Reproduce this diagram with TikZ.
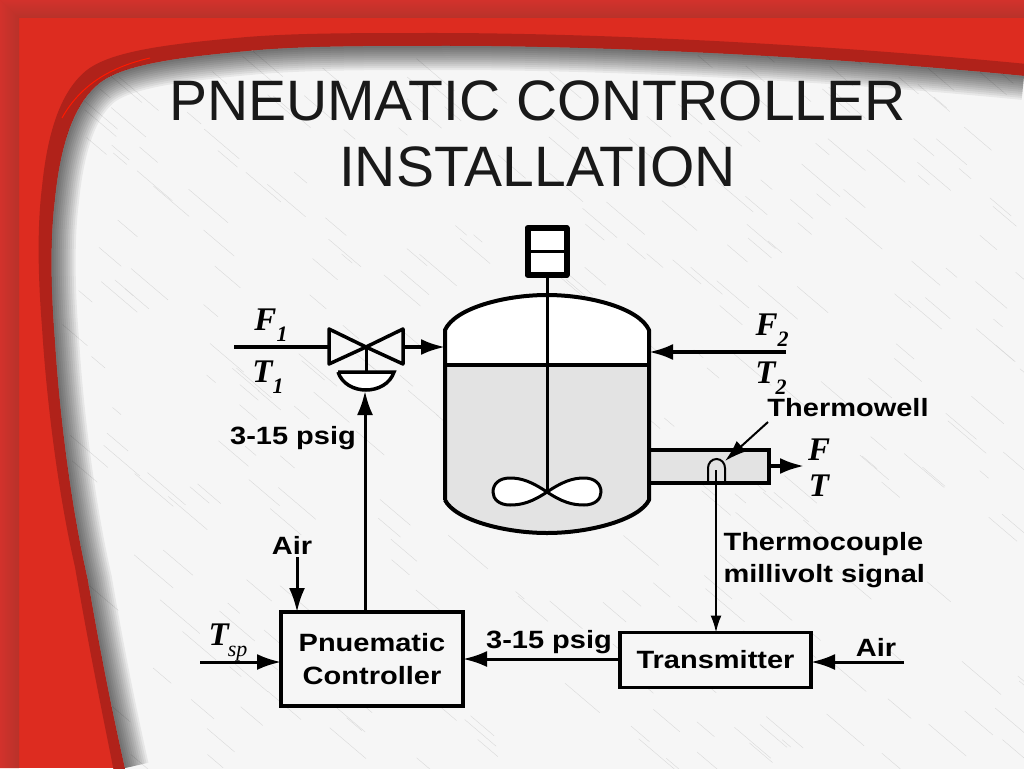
\documentclass[tikz,border=0pt]{standalone}
\usepackage{fontspec}
\setmainfont{Liberation Sans}
\newfontfamily\streamfont{Liberation Serif}
\newfontfamily\tagfont[FakeStretch=1.16]{Liberation Sans}
\usetikzlibrary{arrows.meta}
\definecolor{slidered}{HTML}{DD2C20}
\definecolor{banddark}{HTML}{B8322A}
\definecolor{bandlight}{HTML}{D2322C}
\definecolor{rimdark}{HTML}{B0221A}
\definecolor{panelgray}{HTML}{F6F6F6}
\definecolor{liquidgray}{HTML}{E3E3E3}
\newcommand{\panelcurve}{(1024,76) .. controls (780,52) and (560,46) .. (450,46)
  .. controls (370,46) and (310,46) .. (260,50) .. controls (180,57) and (125,64) .. (100,83)
  .. controls (72,105) and (60,150) .. (55,200) .. controls (50,240) and (51,290) .. (55,340)
  .. controls (60,420) and (72,510) .. (88,580) .. controls (100,650) and (112,710) .. (125,768)}
\newcommand{\streamlabel}[2]{#1\raisebox{-11pt}{\fontsize{22}{22}\selectfont #2}}
\tikzset{
  pipe/.style={line width=3.5pt, -{Latex[length=24pt,width=16pt]}},
  signal/.style={line width=3pt, -{Latex[length=24pt,width=16pt]}},
  vessel/.style={line width=4pt, line join=round},
  blockbox/.style={draw, line width=3.5pt, outer sep=0pt, fill=panelgray, font=\fontsize{25}{33}\selectfont\tagfont\bfseries, align=center},
  tag/.style={font=\fontsize{25}{32}\selectfont\tagfont\bfseries, align=left},
  stream/.style={font=\fontsize{33}{36}\selectfont\streamfont\bfseries\itshape}
}
\begin{document}
\begin{tikzpicture}[x=1pt, y=-1pt]
    \useasboundingbox (0, 0) rectangle (1024, 768);
    \fill [slidered] (0, 0) rectangle (1024, 768);
    \shade [top color=bandlight, bottom color=banddark] (0, 0) -- (1024, 0) -- (1024, 18) -- (19, 18) -- cycle;
    \shade [left color=bandlight, right color=banddark] (0, 0) -- (19, 18) -- (19, 768) -- (0, 768) -- cycle;

    \fill [rimdark, xshift=-13pt, yshift=13pt] (1060, 76) -- (1040, 77) .. controls (780,52) and (560,46) .. (450,46)
      .. controls (370,46) and (310,46) .. (260,50) .. controls (180,57) and (125,64) .. (100,83)
      .. controls (72,105) and (60,150) .. (55,200) .. controls (50,240) and (51,290) .. (55,340)
      .. controls (60,420) and (72,510) .. (88,580) .. controls (100,650) and (112,710) .. (128,790)
      -- (1060, 790) -- cycle;
    \draw [red!80!orange, line width=1pt] (150, 58) .. controls (115, 66) and (82, 82) .. (62, 118);
    \fill [panelgray] \panelcurve -- (126, 775) -- (1030, 775) -- (1030, 76) -- cycle;

    \begin{scope}
      \clip \panelcurve -- (126, 775) -- (1030, 775) -- (1030, 76) -- cycle;
      \pgfmathsetseed{41}
      \foreach \n in {1,...,320} {
        \pgfmathsetmacro{\sx}{60+rnd*960}
        \pgfmathsetmacro{\sy}{50+rnd*715}
        \pgfmathsetmacro{\sl}{8+rnd*32}
        \draw [gray!30, line width=0.4pt] (\sx, \sy) -- ++(\sl, 0.85*\sl);
      }
      \foreach \w in {4,8,...,48} {
        \draw [black, opacity=0.06, line width=\w pt] \panelcurve;
      }
    \end{scope}

    \node [font=\fontsize{57}{66}\selectfont, text=black!90, align=center] (title) at (537.5, 134)
      {PNEUMATIC CONTROLLER\\INSTALLATION};

    \fill [white] (445, 365) -- (445, 330) .. controls (455, 308) and (505, 295) .. (547, 295)
      .. controls (589, 295) and (639, 308) .. (649, 330) -- (649, 365) -- cycle;
    \fill [liquidgray] (445, 365) -- (445, 500) .. controls (455, 520) and (505, 533) .. (547, 533)
      .. controls (589, 533) and (639, 520) .. (649, 500) -- (649, 365) -- cycle;
    \fill [liquidgray] (650, 450) rectangle (769, 483);
    \draw [vessel] (445, 500) -- (445, 330) .. controls (455, 308) and (505, 295) .. (547, 295)
      .. controls (589, 295) and (639, 308) .. (649, 330) -- (649, 500)
      .. controls (639, 520) and (589, 533) .. (547, 533)
      .. controls (505, 533) and (455, 520) .. (445, 500);
    \draw [line width=3.5pt] (445, 365) -- (649, 365);

    \draw [fill=white, line width=6pt, line join=round] (527.5, 228) rectangle (566.5, 275);
    \draw [line width=3pt] (527.5, 251) -- (566.5, 251);
    \draw [line width=3pt] (547, 278) -- (547, 492);
    \draw [fill=white, line width=3pt] (547, 492) .. controls (532, 482) and (522, 478) .. (510, 478)
      .. controls (499, 478) and (493, 484) .. (493, 492) .. controls (493, 499) and (499, 505) .. (510, 505)
      .. controls (522, 505) and (532, 502) .. (547, 492)
      .. controls (562, 482) and (572, 478) .. (584, 478)
      .. controls (595, 478) and (601, 484) .. (601, 492) .. controls (601, 499) and (595, 505) .. (584, 505)
      .. controls (572, 505) and (562, 502) .. (547, 492);

    \draw [fill=panelgray, line width=3.5pt, line join=round] (329, 329) -- (366, 347) -- (329, 364) -- cycle;
    \draw [fill=panelgray, line width=3.5pt, line join=round] (403, 329) -- (366, 347) -- (403, 364) -- cycle;
    \draw [line width=3pt] (366, 347) -- (366, 372);
    \draw [fill=white, line width=3.5pt] (338, 372) -- (394, 372) .. controls (390, 384) and (378, 390) .. (366, 390)
      .. controls (354, 390) and (342, 384) .. (338, 372);

    \coordinate (feedone) at (234, 347);
    \coordinate (valvein) at (329, 347);
    \coordinate (valveout) at (403, 347);
    \coordinate (vesselleft) at (445, 347);
    \coordinate (feedtwo) at (786, 352);
    \coordinate (vesselright) at (649, 352);
    \coordinate (actuator) at (365, 391);
    \coordinate (airleft) at (297, 557);
    \coordinate (setpoint) at (200, 662);
    \coordinate (airright) at (904, 662);
    \coordinate (wellbox) at (769, 466);
    \coordinate (outflow) at (804, 466);
    \coordinate (welltip) at (725, 461);
    \coordinate (welltag) at (768, 422);
    \coordinate (couple) at (716, 470);

    \draw [line width=3.5pt] (650, 450) -- (769, 450) -- (769, 483) -- (650, 483);
    \draw [line width=2pt] (708, 483) -- (708, 468) arc [start angle=180, end angle=0, x radius=8.5, y radius=-9] -- (725, 483);

    \node [blockbox, minimum width=182pt, minimum height=94pt] (controller) at (372, 659) {Pnuematic\\Controller};
    \node [blockbox, minimum width=191pt, minimum height=55pt] (transmitter) at (715.5, 660) {Transmitter};

    \draw [line width=3.5pt] (feedone) -- (valvein);
    \draw [pipe] (valveout) -- (vesselleft);
    \draw [pipe] (feedtwo) -- (vesselright);
    \draw [pipe] (wellbox) -- (outflow);
    \draw [signal] (controller.north -| actuator) -- (actuator);
    \draw [signal] (airleft) -- (controller.north -| airleft);
    \draw [signal] (setpoint) -- (controller.west |- setpoint);
    \draw [signal] (transmitter.west |- controller.east) -- (controller.east);
    \draw [signal] (airright) -- (transmitter.east |- airright);
    \draw [line width=2pt, -{Latex[length=17pt,width=11pt]}] (couple) -- (transmitter.north -| couple);
    \draw [line width=2pt, -{Latex[length=22pt,width=14pt]}] (welltag) -- (welltip);

    \node [stream] (fone) at (271, 325) {\streamlabel{F}{1}};
    \node [stream] (tone) at (268, 377) {\streamlabel{T}{1}};
    \node [stream] (ftwo) at (772, 330) {\streamlabel{F}{2}};
    \node [stream] (ttwo) at (771, 378) {\streamlabel{T}{2}};
    \node [stream] (fout) at (819, 450) {F};
    \node [stream] (tout) at (819, 486) {T};
    \node [stream] (tset) at (228, 643) {\streamlabel{T\kern-1pt}{\mdseries sp}};

    \node [tag] (psigup) at (293, 438) {3-15 psig};
    \node [tag] (airup) at (292, 545) {Air};
    \node [tag] (psigdown) at (549, 642) {3-15 psig};
    \node [tag] (airdown) at (876, 647) {Air};
    \node [tag] (welltext) at (848, 408) {Thermowell};
    \node [tag, anchor=west] (coupletext) at (720, 560) {Thermocouple\\millivolt signal};
\end{tikzpicture}
\end{document}
